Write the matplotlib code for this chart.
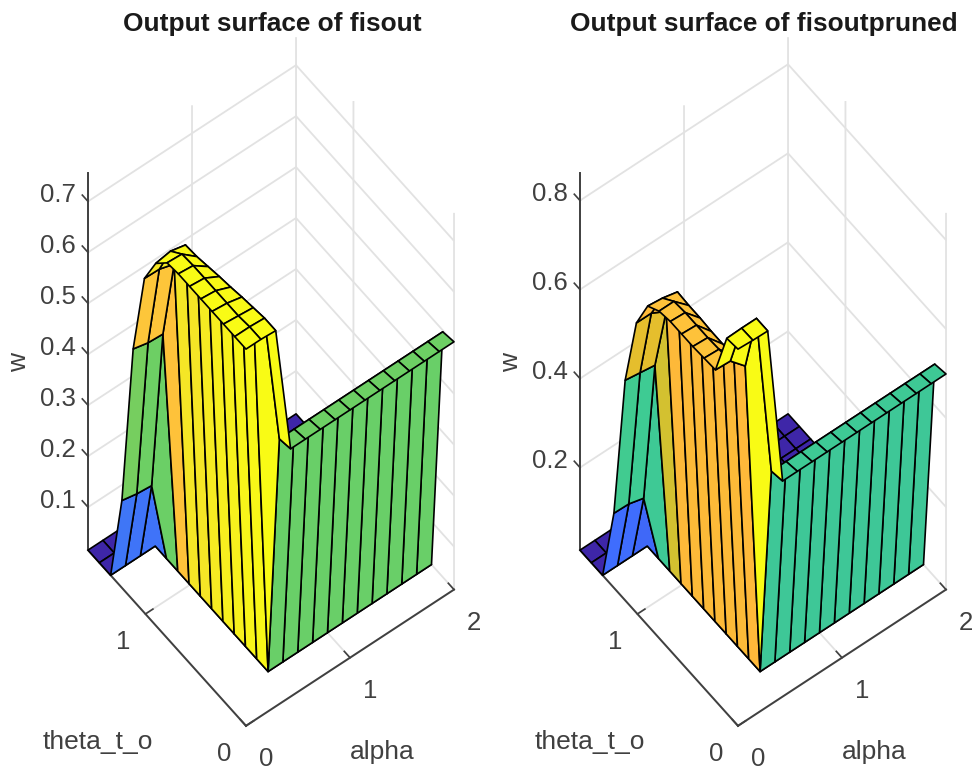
import numpy as np
import matplotlib
matplotlib.use("Agg")
import matplotlib.pyplot as plt
from matplotlib.colors import LinearSegmentedColormap

plt.rcParams["font.family"] = ["Liberation Sans", "DejaVu Sans"]

alpha_grid = [0, 0.143, 0.286, 0.429, 0.571, 0.714, 0.857, 1.0, 1.143, 1.286, 1.429, 1.571, 1.714, 1.857, 2.0]
theta_grid = [0, 0.112, 0.224, 0.337, 0.449, 0.561, 0.673, 0.785, 0.898, 1.01, 1.122, 1.234, 1.346, 1.458, 1.571]

# rows of theta_grid (first 12), first three columns of alpha_grid
fisout_edge = [
    [0.755, 0.755, 0.753], [0.755, 0.755, 0.753], [0.755, 0.752, 0.749],
    [0.755, 0.752, 0.745], [0.755, 0.752, 0.740], [0.755, 0.752, 0.736],
    [0.755, 0.752, 0.731], [0.752, 0.750, 0.726], [0.726, 0.731, 0.724],
    [0.672, 0.671, 0.662], [0.509, 0.502, 0.500], [0.187, 0.181, 0.178],
]
# first two rows of theta_grid, remaining alpha columns
fisout_front = [0.502, 0.497]
fisout_zlim = (0.0157, 0.755)
fisout_zticks = [0.1, 0.2, 0.3, 0.4, 0.5, 0.6, 0.7]

fisoutpruned_edge = [
    [0.861, 0.859, 0.858], [0.857, 0.858, 0.858], [0.758, 0.756, 0.723],
    [0.756, 0.754, 0.718], [0.754, 0.752, 0.716], [0.754, 0.752, 0.716],
    [0.754, 0.752, 0.718], [0.749, 0.749, 0.718], [0.732, 0.728, 0.720],
    [0.666, 0.666, 0.648], [0.509, 0.504, 0.499], [0.182, 0.181, 0.172],
]
fisoutpruned_front = [0.499, 0.493]
fisoutpruned_zlim = (0.0145, 0.861)
fisoutpruned_zticks = [0.2, 0.4, 0.6, 0.8]

cmap_stops = [0.0, 0.2, 0.58, 0.66, 0.76, 0.84, 0.89, 0.96, 1.0]
cmap_colors = ["#3e26a8", "#3f6eff", "#3ecb93", "#6ecf63", "#e0bf2a", "#ffb93a", "#fdc63a", "#f5e626", "#f9fb15"]
cmap = LinearSegmentedColormap.from_list("surface", list(zip(cmap_stops, cmap_colors)))

INK = "#404040"
GRID = "#e2e2e2"
W, H = 976, 767
AXES_SIZE = 788


def height_field(edge, front, floor):
    z = np.full((len(theta_grid), len(alpha_grid)), floor)
    z[:len(edge), :3] = edge
    z[:len(front), 3:] = np.array(front)[:, None]
    return z


def nudge_tick_labels(axis, dx, dy):
    # Axis3D resets label transforms on every draw, so shift where it places them
    per_px = 0.185 / AXES_SIZE
    for tick in axis.get_major_ticks():
        place = tick.label1.set_position
        tick.label1.set_position = lambda xy, place=place: place((xy[0] + dx * per_px, xy[1] + dy * per_px))


def draw_panel(fig, x_shift, z, zlim, zticks, title):
    left = x_shift + 271 - 0.5135 * AXES_SIZE
    bottom = 385.5 - 0.5135 * AXES_SIZE
    ax = fig.add_axes([left / W, bottom / H, AXES_SIZE / W, AXES_SIZE / H],
                      projection="3d", proj_type="ortho")
    ax.patch.set_alpha(0)
    ax.set_box_aspect((262.2, 259.5, 723))
    ax.view_init(elev=58.6, azim=-127.5)
    ax.set_xlim(0, 2)
    ax.set_ylim(0, 1.571)
    ax.set_zlim(*zlim)

    X, Y = np.meshgrid(alpha_grid, theta_grid)
    faces = cmap((z[:-1, :-1] - zlim[0]) / (zlim[1] - zlim[0]))
    ax.plot_surface(X, Y, z, facecolors=faces, edgecolor="black", linewidth=1.2,
                    rstride=1, cstride=1, shade=False, antialiased=True)

    ax.set_xticks([0, 1, 2])
    ax.set_yticks([0, 1])
    ax.set_zticks(zticks)
    ax.set_zticklabels([f"{t:g}" for t in zticks])
    # z ticks point along theta in the reference, not along alpha
    ax.zaxis._get_tickdir = lambda position: 1
    for axis in (ax.xaxis, ax.yaxis, ax.zaxis):
        axis.set_pane_color((1, 1, 1, 0))
        axis.pane.set_edgecolor((1, 1, 1, 0))
        axis.line.set_color(INK)
        axis.line.set_linewidth(1.4)
        axis._axinfo["grid"].update(color=GRID, linewidth=1.3)
        axis._axinfo["tick"].update(inward_factor=0.0, outward_factor=0.45, linewidth={True: 1.2, False: 1.2})
    ax.tick_params(axis="both", colors=INK, labelsize=18.5)
    ax.tick_params(axis="z", colors=INK, labelsize=18.5)
    for label in ax.get_zticklabels():
        label.set_ha("right")
    nudge_tick_labels(ax.xaxis, 14, 0)
    nudge_tick_labels(ax.yaxis, -14, 4)
    nudge_tick_labels(ax.zaxis, 2, 17)

    # Axes3D.set_title scales y by 0.92
    ax.set_title(title, fontsize=18.9, fontweight="bold", color="#1a1a1a", va="center", pad=0,
                 x=(x_shift + 272 - left) / AXES_SIZE, y=(H - 24 - bottom) / AXES_SIZE / 0.92)

    fig.text((x_shift + 98) / W, 1 - 742 / H, "theta_t_o", fontsize=19, color=INK, ha="center", va="center")
    fig.text((x_shift + 382) / W, 1 - 752 / H, "alpha", fontsize=19, color=INK, ha="center", va="center")
    fig.text((x_shift + 19) / W, 1 - 362 / H, "w", fontsize=19, color=INK, ha="center", va="center", rotation=90)
    return ax


fig = plt.figure(figsize=(W / 100, H / 100), dpi=100)
draw_panel(fig, 0, height_field(fisout_edge, fisout_front, fisout_zlim[0]), fisout_zlim,
           fisout_zticks, "Output surface of fisout")
draw_panel(fig, 492, height_field(fisoutpruned_edge, fisoutpruned_front, fisoutpruned_zlim[0]), fisoutpruned_zlim,
           fisoutpruned_zticks, "Output surface of fisoutpruned")
fig.savefig("out.png", dpi=100)
